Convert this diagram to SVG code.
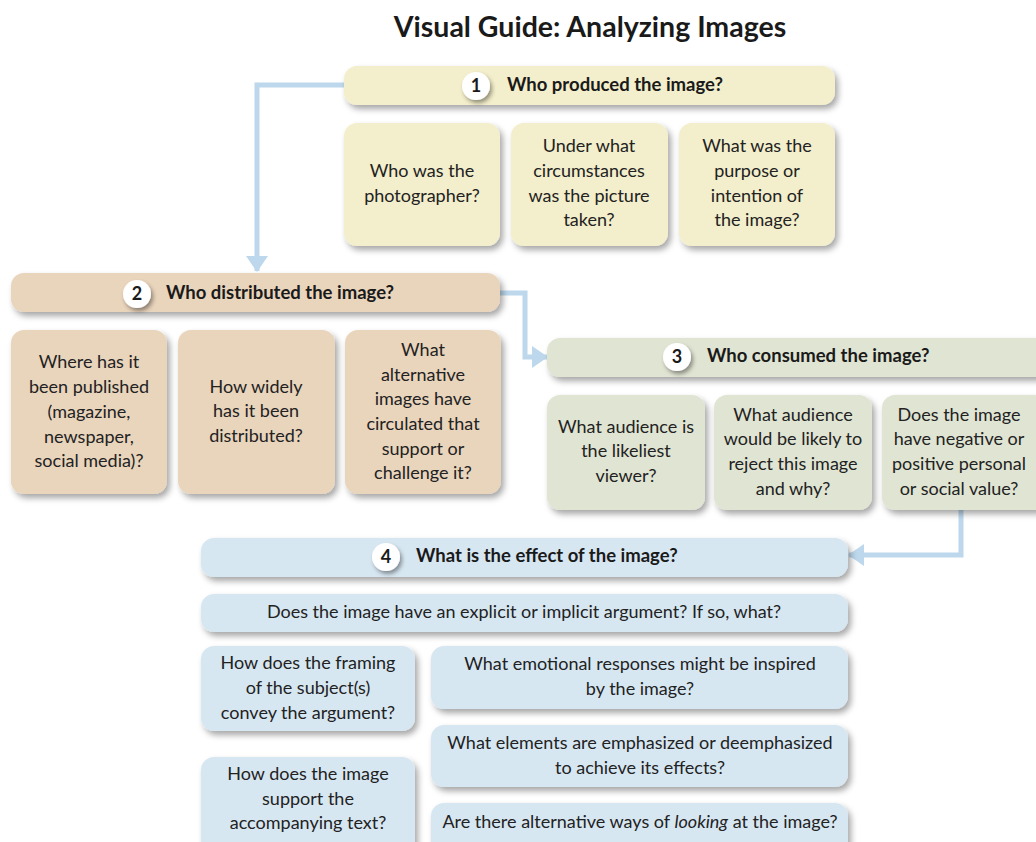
<svg xmlns="http://www.w3.org/2000/svg" width="1036" height="842" viewBox="0 0 1036 842">
  <defs>
    <filter id="shadow" x="-10%" y="-20%" width="130%" height="160%">
      <feDropShadow dx="3" dy="4" stdDeviation="3" flood-color="#000" flood-opacity="0.35"/>
    </filter>
    <filter id="dotShadow" x="-50%" y="-50%" width="200%" height="200%">
      <feDropShadow dx="2" dy="3" stdDeviation="2" flood-color="#000" flood-opacity="0.4"/>
    </filter>
    <marker id="arrow" viewBox="0 0 16 22" refX="15" refY="11" markerWidth="16" markerHeight="22" markerUnits="userSpaceOnUse" orient="auto">
      <path d="M0,0 L16,11 L0,22 Z" fill="#bdd8ec"/>
    </marker>
  </defs>
  <style>
    .box { filter: url(#shadow); }
    .y { fill: #f3eecb; }
    .t { fill: #e9d4bc; }
    .g { fill: #e0e4d2; }
    .b { fill: #d7e7f2; }
    .dot { fill: #ffffff; filter: url(#dotShadow); }
    .num { font-family: Lato, "Open Sans", sans-serif; font-weight: 700; font-size: 18px; fill: #1a1a1a; text-anchor: middle; }
    .head { font-family: Lato, "Open Sans", sans-serif; font-weight: 700; font-size: 18.5px; fill: #1a1a1a; }
    .q { font-family: Lato, "Open Sans", sans-serif; font-size: 18px; fill: #222; text-anchor: middle; }
    .title { font-family: Lato, "Open Sans", sans-serif; font-weight: 700; font-size: 28.5px; fill: #1a1a1a; text-anchor: middle; }
    .link { fill: none; stroke: #bdd8ec; stroke-width: 5; stroke-linejoin: miter; }
  </style>

  <rect width="1036" height="842" fill="#ffffff"/>

  <text class="title" x="590" y="37">Visual Guide: Analyzing Images</text>

  <!-- connectors between the four stages -->
  <g id="connectors">
    <path class="link" d="M344,85 H257 V271" marker-end="url(#arrow)"/>
    <path class="link" d="M500,293 H525 V357 H547" marker-end="url(#arrow)"/>
    <path class="link" d="M961,510 V555 H849" marker-end="url(#arrow)"/>
  </g>

  <!-- stage 1 -->
  <g id="stage1">
    <rect class="box y" x="344" y="66" width="491" height="39" rx="13"/>
    <circle class="dot" cx="476" cy="86" r="14"/>
    <text class="num" x="476" y="92">1</text>
    <text class="head" x="507" y="91">Who produced the image?</text>
  </g>
  <g id="q1a">
    <rect class="box y" x="344" y="123" width="156" height="123" rx="13"/>
    <text class="q" x="422" y="177">Who was the</text>
    <text class="q" x="422" y="202">photographer?</text>
  </g>
  <g id="q1b">
    <rect class="box y" x="511" y="123" width="157" height="123" rx="13"/>
    <text class="q" x="589" y="152">Under what</text>
    <text class="q" x="589" y="177">circumstances</text>
    <text class="q" x="589" y="202">was the picture</text>
    <text class="q" x="589" y="226">taken?</text>
  </g>
  <g id="q1c">
    <rect class="box y" x="679" y="123" width="156" height="123" rx="13"/>
    <text class="q" x="757" y="152">What was the</text>
    <text class="q" x="757" y="177">purpose or</text>
    <text class="q" x="757" y="202">intention of</text>
    <text class="q" x="757" y="226">the image?</text>
  </g>

  <!-- stage 2 -->
  <g id="stage2">
    <rect class="box t" x="11" y="273" width="489" height="39" rx="13"/>
    <circle class="dot" cx="137" cy="294" r="14"/>
    <text class="num" x="137" y="300">2</text>
    <text class="head" x="166" y="299">Who distributed the image?</text>
  </g>
  <g id="q2a">
    <rect class="box t" x="11" y="330" width="156" height="164" rx="13"/>
    <text class="q" x="89" y="368">Where has it</text>
    <text class="q" x="89" y="393">been published</text>
    <text class="q" x="89" y="418">(magazine,</text>
    <text class="q" x="89" y="443">newspaper,</text>
    <text class="q" x="89" y="467">social media)?</text>
  </g>
  <g id="q2b">
    <rect class="box t" x="178" y="330" width="157" height="164" rx="13"/>
    <text class="q" x="256" y="393">How widely</text>
    <text class="q" x="256" y="417">has it been</text>
    <text class="q" x="256" y="442">distributed?</text>
  </g>
  <g id="q2c">
    <rect class="box t" x="345" y="330" width="156" height="164" rx="13"/>
    <text class="q" x="423" y="356">What</text>
    <text class="q" x="423" y="381">alternative</text>
    <text class="q" x="423" y="405">images have</text>
    <text class="q" x="423" y="430">circulated that</text>
    <text class="q" x="423" y="455">support or</text>
    <text class="q" x="423" y="479">challenge it?</text>
  </g>

  <!-- stage 3 -->
  <g id="stage3">
    <rect class="box g" x="547" y="338" width="500" height="39" rx="13"/>
    <circle class="dot" cx="677" cy="357" r="14"/>
    <text class="num" x="677" y="363">3</text>
    <text class="head" x="707" y="362">Who consumed the image?</text>
  </g>
  <g id="q3a">
    <rect class="box g" x="547" y="395" width="158" height="115" rx="13"/>
    <text class="q" x="626" y="433">What audience is</text>
    <text class="q" x="626" y="457">the likeliest</text>
    <text class="q" x="626" y="482">viewer?</text>
  </g>
  <g id="q3b">
    <rect class="box g" x="714" y="395" width="158" height="115" rx="13"/>
    <text class="q" x="793" y="421">What audience</text>
    <text class="q" x="793" y="445">would be likely to</text>
    <text class="q" x="793" y="470">reject this image</text>
    <text class="q" x="793" y="495">and why?</text>
  </g>
  <g id="q3c">
    <rect class="box g" x="882" y="395" width="165" height="115" rx="13"/>
    <text class="q" x="959" y="421">Does the image</text>
    <text class="q" x="959" y="445">have negative or</text>
    <text class="q" x="959" y="470">positive personal</text>
    <text class="q" x="959" y="495">or social value?</text>
  </g>

  <!-- stage 4 -->
  <g id="stage4">
    <rect class="box b" x="201" y="538" width="647" height="39" rx="13"/>
    <circle class="dot" cx="386" cy="557" r="14"/>
    <text class="num" x="386" y="563">4</text>
    <text class="head" x="416" y="562">What is the effect of the image?</text>
  </g>
  <g id="q4a">
    <rect class="box b" x="201" y="594" width="647" height="38" rx="13"/>
    <text class="q" x="524" y="618">Does the image have an explicit or implicit argument? If so, what?</text>
  </g>
  <g id="q4b">
    <rect class="box b" x="201" y="646" width="214" height="85" rx="13"/>
    <text class="q" x="308" y="669">How does the framing</text>
    <text class="q" x="308" y="694">of the subject(s)</text>
    <text class="q" x="308" y="719">convey the argument?</text>
  </g>
  <g id="q4c">
    <rect class="box b" x="431" y="646" width="417" height="63" rx="13"/>
    <text class="q" x="640" y="670">What emotional responses might be inspired</text>
    <text class="q" x="640" y="695">by the image?</text>
  </g>
  <g id="q4d">
    <rect class="box b" x="431" y="725" width="417" height="62" rx="13"/>
    <text class="q" x="640" y="749">What elements are emphasized or deemphasized</text>
    <text class="q" x="640" y="774">to achieve its effects?</text>
  </g>
  <g id="q4e">
    <rect class="box b" x="201" y="757" width="214" height="100" rx="13"/>
    <text class="q" x="308" y="780">How does the image</text>
    <text class="q" x="308" y="805">support the</text>
    <text class="q" x="308" y="829">accompanying text?</text>
  </g>
  <g id="q4f">
    <rect class="box b" x="431" y="803" width="417" height="54" rx="13"/>
    <text class="q" x="640" y="828">Are there alternative ways of <tspan font-style="italic">looking</tspan> at the image?</text>
  </g>
</svg>
